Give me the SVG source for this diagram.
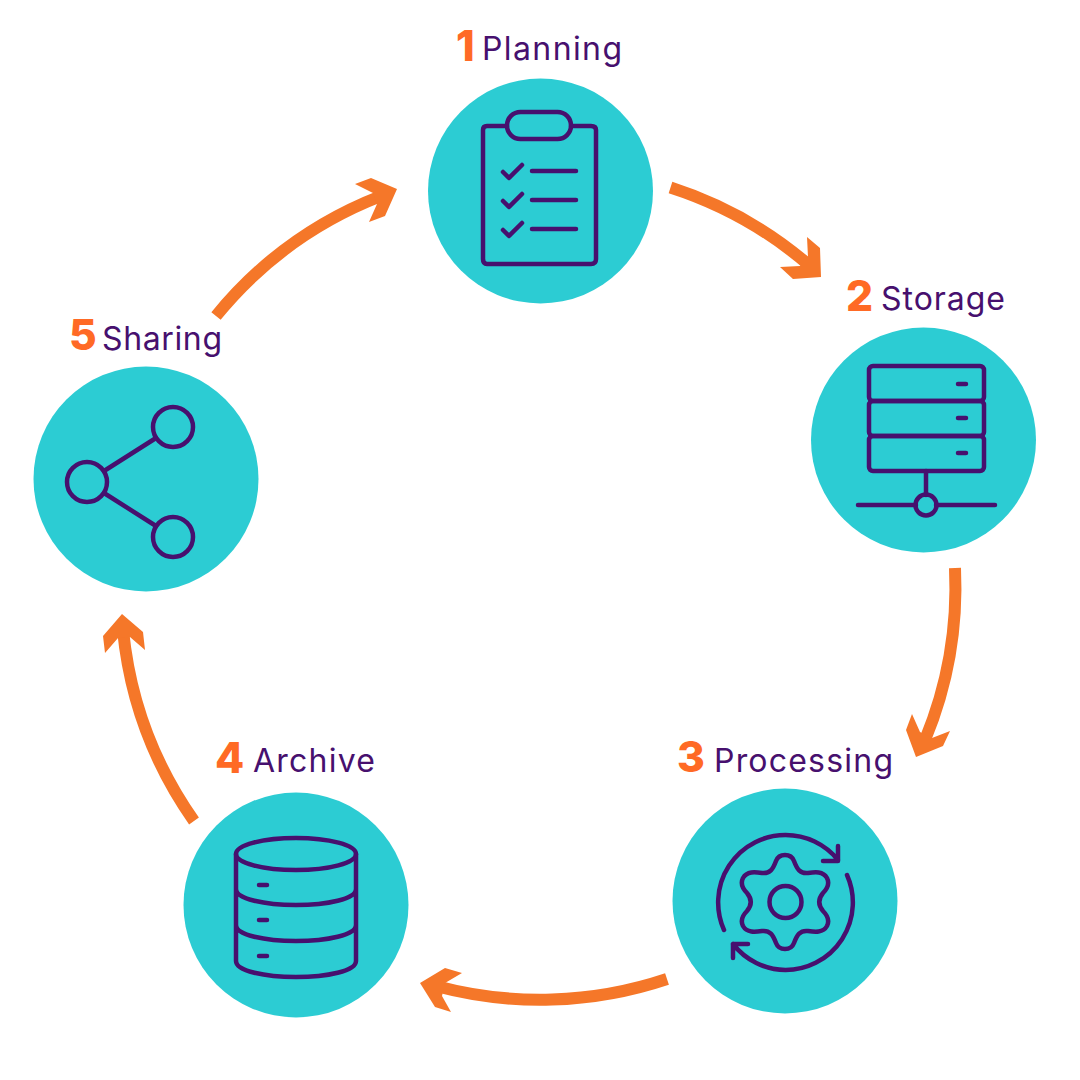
<svg xmlns="http://www.w3.org/2000/svg" width="1080" height="1080" viewBox="0 0 1080 1080">
<style>
.disc{fill:#2cccd3}
.ic{fill:none;stroke:#47106e;stroke-width:4.500;stroke-linecap:round;stroke-linejoin:round}
.shaft{fill:none;stroke:#f57729;stroke-width:12}
.head{fill:#f57729}
.num{font-family:"Inter",sans-serif;font-weight:800;font-size:42.500px;fill:#ff6a25}
.lab{font-family:"Inter",sans-serif;font-size:32px;fill:#47106e}
</style>
<rect width="1080" height="1080" fill="#fff"/>
<g id="connectors">
<path class="shaft" d="M670.500 187.500A400 400 0 0 1 810 266"/>
<polygon class="head" points="807,237 820,248 821,277 793,279 780,267 800,266 808,257"/>
<path class="shaft" d="M955 568A400 400 0 0 1 925 740"/>
<polygon class="head" points="912,714 906,730 916,757 943,746 950,731 932,738 920,732"/>
<path class="shaft" d="M667 979A400 400 0 0 1 436 986"/>
<polygon class="head" points="445,968 462,973 445,983 442,996 451,1012 435,1007 420,983"/>
<path class="shaft" d="M194 821A400 400 0 0 1 123 630"/>
<polygon class="head" points="122,614 143,632 145,650 130,637 118,638 105,653 103,636"/>
<path class="shaft" d="M216 316A400 400 0 0 1 381 196"/>
<polygon class="head" points="355,184 371,178 397,189 385,216 369,222 377,204 373,193"/>
</g>
<g id="node1">
<circle class="disc" cx="540.500" cy="191" r="112.500"/>
<path class="ic" d="M507 126H487Q483 126 483 130V259Q483 264 487 264H591Q596 264 596 259V130Q596 126 591 126H571"/>
<rect class="ic" x="507" y="112" width="64" height="27" rx="13.500"/>
<path class="ic" d="M503 172L509 178L522 165M503 201L509 207L522 194M503 230L509 236L522 223M532 171H576M532 200H576M532 229H576"/>
<text class="num" x="456" y="61">1</text><text class="lab" x="482" y="60" textLength="140">Planning</text>
</g>
<g id="node2">
<circle class="disc" cx="923.500" cy="440" r="112.500"/>
<rect class="ic" x="869" y="366" width="115" height="35" rx="4"/>
<rect class="ic" x="869" y="401" width="115" height="35" rx="4"/>
<rect class="ic" x="869" y="436" width="115" height="35" rx="4"/>
<path class="ic" d="M958 384H966M958 418H966M958 453H966M926 471V495M858 505H916M936 505H995"/>
<circle class="ic" cx="926" cy="505" r="10.500"/>
<text class="num" x="846" y="311">2</text><text class="lab" x="881" y="310" textLength="124">Storage</text>
</g>
<g id="node3">
<circle class="disc" cx="785" cy="901" r="112.500"/>
<circle class="ic" cx="785.500" cy="902" r="16"/>
<path class="ic" d="M776 861C779 853 791 853 794 861C797 869 800 874 808 873C815 872 823 871 827 878C830 884 827 889 823 893C818 899 818 905 823 911C827 915 830 920 827 926C823 933 815 932 808 931C800 930 797 935 794 943C791 951 779 951 776 943C773 935 770 930 762 931C755 932 747 933 743 926C740 920 743 915 747 911C752 905 752 899 747 893C743 889 740 884 743 878C747 871 755 872 762 873C770 874 773 869 776 861Z"/>
<path class="ic" d="M724 930A67.500 67.500 0 0 1 785.500 835A67.500 67.500 0 0 1 838 860M838 846V861H823M847 875A67.500 67.500 0 0 1 785.500 970A67.500 67.500 0 0 1 733 944M733 958V944H748"/>
<text class="num" x="677" y="772">3</text><text class="lab" x="714" y="772" textLength="179">Processing</text>
</g>
<g id="node4">
<circle class="disc" cx="296" cy="905" r="112.500"/>
<ellipse class="ic" cx="296" cy="854" rx="60" ry="16"/>
<path class="ic" d="M236 854V961C236 971 265 977 296 977C327 977 356 971 356 961V854M236 889C236 899 265 905 296 905C327 905 356 899 356 889M236 925C236 935 265 941 296 941C327 941 356 935 356 925M259 885H267M259 920H267M259 956H267"/>
<text class="num" x="215" y="773">4</text><text class="lab" x="253" y="772" textLength="122">Archive</text>
</g>
<g id="node5">
<circle class="disc" cx="146" cy="479" r="112.500"/>
<circle class="ic" cx="87" cy="482" r="20"/>
<circle class="ic" cx="173" cy="427" r="20"/>
<circle class="ic" cx="173" cy="537" r="20"/>
<path class="ic" d="M104 471L156 438M104 493L156 526"/>
<text class="num" x="69" y="350">5</text><text class="lab" x="102" y="350" textLength="120">Sharing</text>
</g>
</svg>
